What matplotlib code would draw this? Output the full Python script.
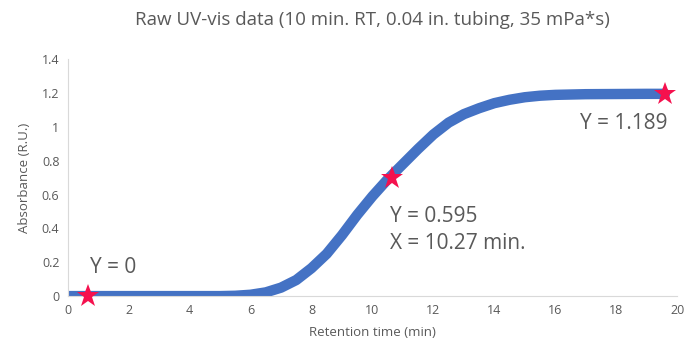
import matplotlib.pyplot as plt

plt.rcParams['font.family'] = ['Open Sans', 'DejaVu Sans']

time_min = [0, 0.5, 1, 1.5, 2, 2.5, 3, 3.5, 4, 4.5, 5, 5.5, 6, 6.5, 7, 7.5, 8,
            8.5, 9, 9.5, 10, 10.5, 11, 11.5, 12, 12.5, 13, 13.5, 14, 14.5, 15,
            15.5, 16, 17, 18, 19, 19.6]
absorb = [0, 0, 0, 0, 0, 0, 0, 0, 0, 0, 0, 0.002, 0.008, 0.022, 0.05, 0.095, 0.165,
          0.25, 0.36, 0.48, 0.59, 0.69, 0.78, 0.87, 0.955, 1.025, 1.075, 1.11,
          1.14, 1.16, 1.175, 1.184, 1.189, 1.193, 1.194, 1.195, 1.195]

star_x = [0.66, 10.64, 19.6]
star_y = [0.0, 0.70, 1.195]
star_text = ["Y = 0", "Y = 0.595\nX = 10.27 min.", "Y = 1.189"]
text_pos = [(0.72, 0.17), (10.57, 0.39), (16.8, 1.02)]

fig = plt.figure(figsize=(6.84, 3.5), dpi=100)
ax = fig.add_axes([0.099, 0.154, 0.891, 0.677])

ax.plot(time_min, absorb, color='#4472C4', linewidth=7.5, solid_capstyle='round',
        solid_joinstyle='round', zorder=2)
ax.plot(star_x, star_y, linestyle='none', marker='*', markersize=17,
        color='#F5114E', markeredgewidth=0, zorder=3, clip_on=False)

for t, (tx, ty) in zip(star_text, text_pos):
    ax.text(tx, ty, t, fontsize=15, color='#595959', va='center', ha='left', linespacing=1.35)

ax.set_xlim(0, 20)
ax.set_ylim(0, 1.4)
ax.set_xticks(range(0, 21, 2))
ax.set_yticks([0, 0.2, 0.4, 0.6, 0.8, 1, 1.2, 1.4])
ax.set_yticklabels(['0', '0.2', '0.4', '0.6', '0.8', '1', '1.2', '1.4'])
ax.tick_params(length=0, labelsize=9, colors='#595959', pad=6)

for s in ['top', 'right']:
    ax.spines[s].set_visible(False)
ax.spines['left'].set_color('#D9D9D9')
ax.spines['bottom'].set_color('#D9D9D9')

ax.set_xlabel('Retention time (min)', fontsize=9.5, color='#595959', labelpad=6)
ax.set_ylabel('Absorbance (R.U.)', fontsize=9.5, color='#595959', labelpad=8)
fig.text(0.5445, 0.943, 'Raw UV-vis data (10 min. RT, 0.04 in. tubing, 35 mPa*s)',
         fontsize=13.5, color='#595959', ha='center', va='center')

fig.savefig('out.png', dpi=100)
